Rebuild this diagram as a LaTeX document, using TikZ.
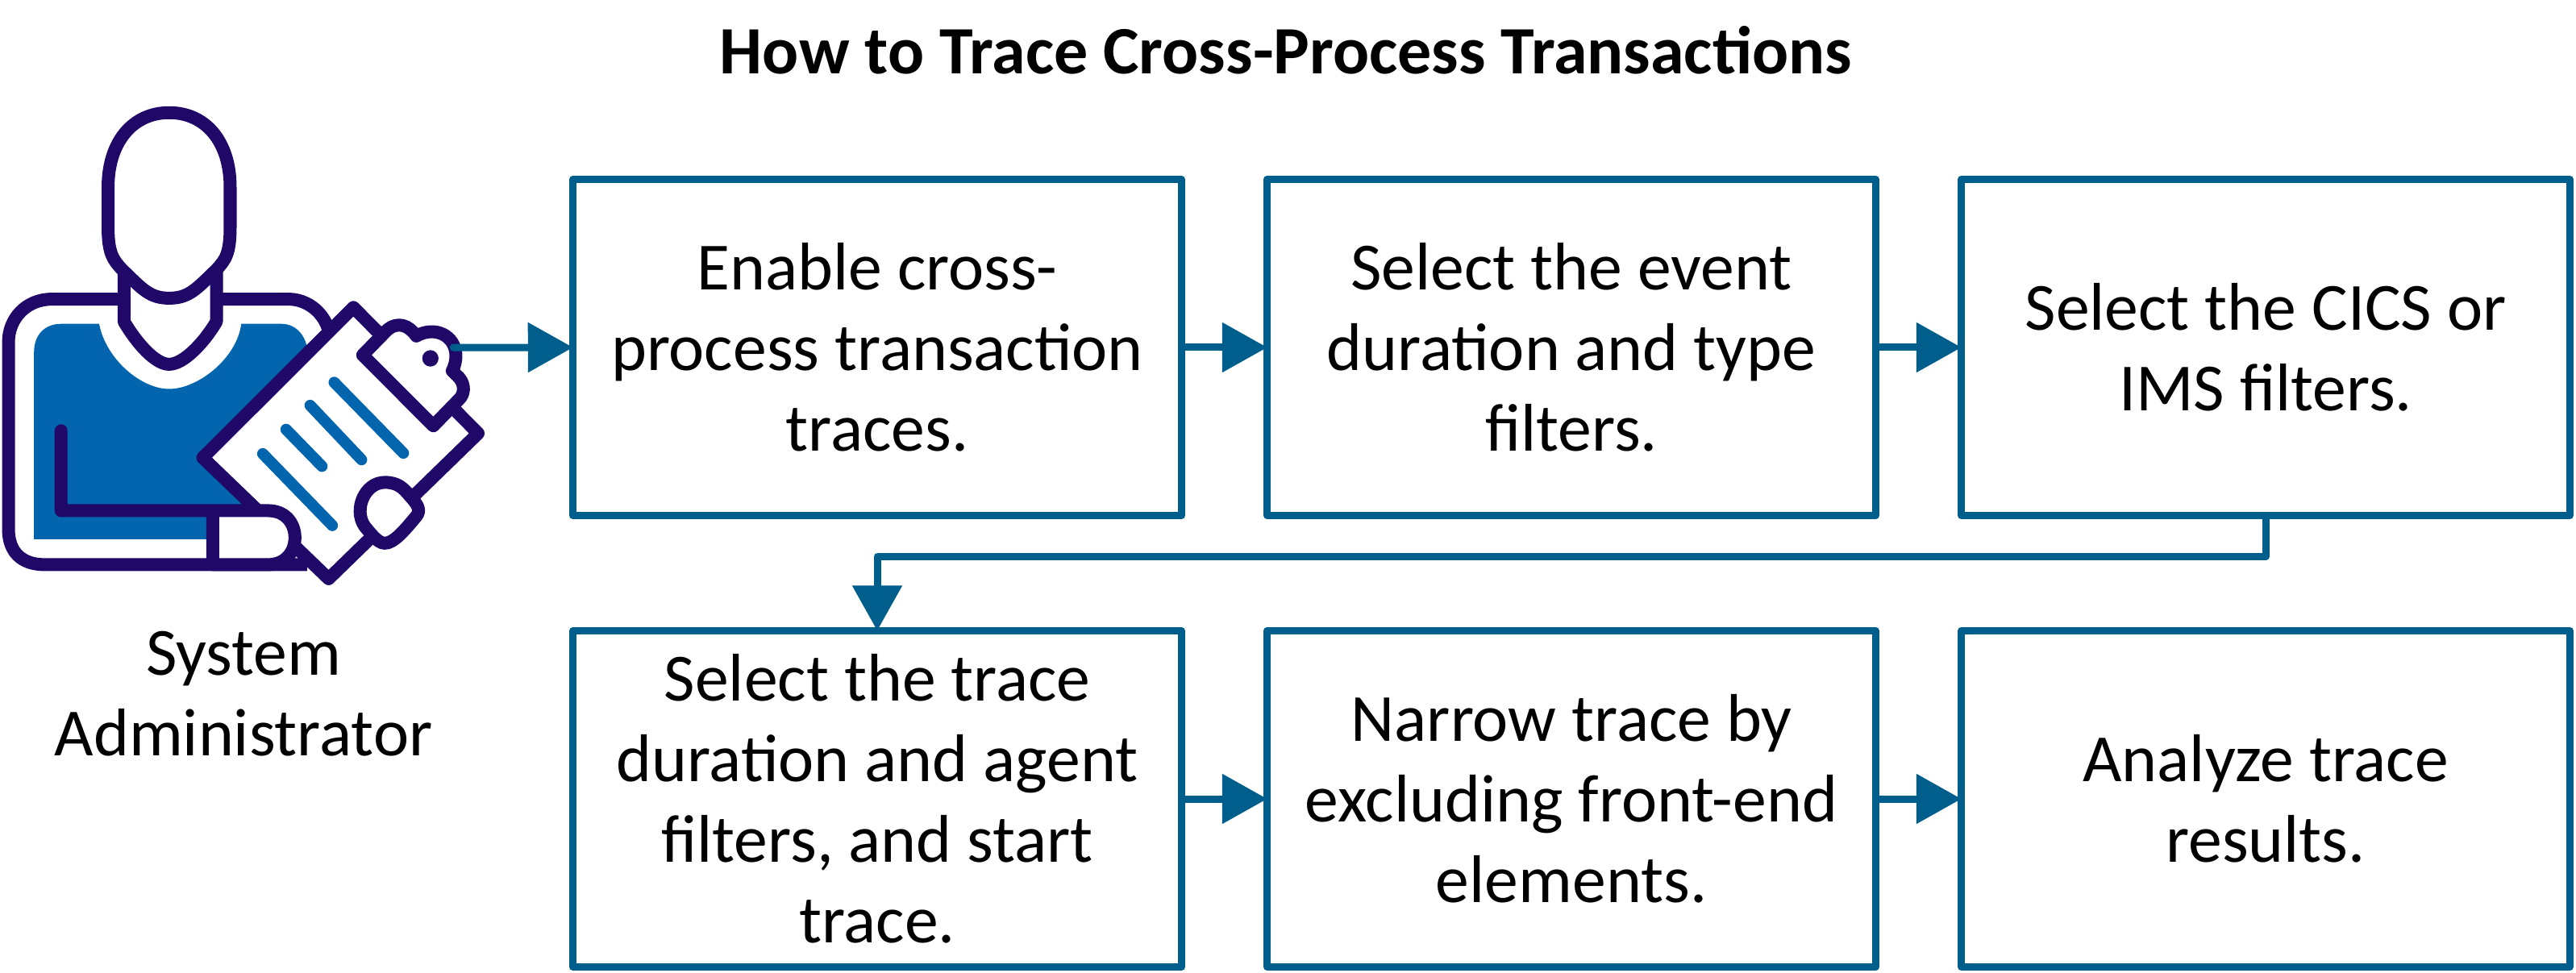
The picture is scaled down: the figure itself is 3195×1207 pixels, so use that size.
\documentclass[tikz,border=0pt]{standalone}
\usepackage{fontspec}
\setmainfont{Carlito}
\usetikzlibrary{arrows.meta}
\definecolor{flowblue}{RGB}{0,94,140}
\definecolor{iconink}{RGB}{32,8,104}
\definecolor{shirtblue}{RGB}{3,101,174}
\tikzset{
	stepbox/.style={draw=flowblue, line width=0.09cm, line join=round, fill=white, minimum width=7.54cm, minimum height=4.17cm, inner sep=0pt, outer sep=0pt, align=center, font=\fontsize{23.8}{28.45}\selectfont},
	flow/.style={draw=flowblue, line width=0.09cm, line join=round, -{Triangle[length=0.56cm, width=0.6cm]}},
	inkline/.style={draw=iconink, line width=0.16cm, line join=round},
	listline/.style={draw=shirtblue, line width=0.14cm, line cap=round}
}

\begin{document}
\begin{tikzpicture}[x=0.01cm, y=-0.01cm]
		\useasboundingbox (0,0) rectangle (3195,1207);

		\node (title) at (1595,62) {\fontsize{23.9}{29}\selectfont\bfseries How to Trace Cross-Process Transactions};

		\begin{scope}[shift={(0,110)}, xscale=0.459, yscale=0.408]
		\fill [shirtblue] (92,1370) -- (92,800) .. controls (92,750) and (120,715) .. (165,715) -- (268,715) .. controls (285,820) and (380,913) .. (457,913) .. controls (535,913) and (640,820) .. (652,715) -- (760,715) .. controls (800,715) and (825,750) .. (830,790) -- (830,1370) -- cycle;
		\draw [inkline] (330,640) -- (140,640) .. controls (70,640) and (23,700) .. (23,770) -- (23,1340) .. controls (23,1410) and (60,1447) .. (120,1447) -- (830,1447);
		\draw [inkline] (590,640) -- (780,640) .. controls (830,640) and (875,680) .. (888,735);
		\draw [inkline, fill=white] (335,540) -- (335,708) .. controls (370,775) and (420,838) .. (457,838) .. controls (495,838) and (550,775) .. (585,708) -- (585,540);
		\draw [inkline, fill=white] (292,300) .. controls (292,160) and (360,73) .. (457,73) .. controls (555,73) and (622,160) .. (622,300) -- (622,420) .. controls (622,500) and (610,520) .. (585,550) .. controls (530,610) and (510,637) .. (457,637) .. controls (405,637) and (385,610) .. (330,550) .. controls (305,520) and (292,500) .. (292,420) -- cycle;

		\draw [inkline, fill=white, miter limit=10] (955,665) -- (1292,1048) -- (888,1490) -- (548,1122) -- cycle;
		\draw [inkline, fill=white] (980,810) -- (1045,735) .. controls (1075,705) and (1105,720) .. (1125,752) .. controls (1175,720) and (1230,750) .. (1232,810) .. controls (1232,830) and (1228,845) .. (1222,858) -- (1240,878) .. controls (1258,900) and (1255,930) .. (1240,945) -- (1171,1025) -- cycle;
		\fill [iconink] (1163,820) ellipse [x radius=22, y radius=25];
		\draw [inkline, fill=white] (1040,1197) .. controls (1075,1197) and (1090,1215) .. (1105,1235) .. controls (1125,1260) and (1140,1280) .. (1125,1300) .. controls (1095,1340) and (1065,1382) .. (1040,1382) .. controls (1020,1382) and (1000,1350) .. (985,1330) .. controls (955,1280) and (985,1197) .. (1040,1197) -- cycle;
		\draw [listline] (903,893) -- (1090,1108);
		\draw [listline] (838,963) -- (977,1128);
		\draw [listline] (773,1036) -- (870,1148);
		\draw [listline] (710,1110) -- (898,1328);

		\fill [white] (575,1283) -- (725,1283) .. controls (770,1283) and (797,1320) .. (797,1365) .. controls (797,1410) and (770,1447) .. (725,1447) -- (575,1447) -- cycle;
		\draw [inkline, line cap=round] (165,1040) -- (165,1283) -- (725,1283) .. controls (770,1283) and (797,1320) .. (797,1365) .. controls (797,1410) and (770,1447) .. (725,1447) -- (575,1447) -- (575,1283);
		\coordinate (clipend) at (1225,787);
		\end{scope}

		\node (role) at (302,861) [align=center, font=\fontsize{23.8}{28.45}\selectfont] {System\\Administrator};

		\node (step1) at (1088,431) [stepbox] {Enable cross-\\process transaction\\traces.};
		\node (step2) at (1949,431) [stepbox] {Select the event\\duration and type\\filters.};
		\node (step3) at (2810,431) [stepbox] {Select the CICS or\\IMS filters.};
		\node (step4) at (1088,991) [stepbox] {Select the trace\\duration and agent\\filters, and start\\trace.};
		\node (step5) at (1949,991) [stepbox] {Narrow trace by\\excluding front-end\\elements.};
		\node (step6) at (2810,991) [stepbox] {Analyze trace\\results.};

		\draw [flow, line cap=round] (clipend) -- (step1.west);
		\draw [flow] (step1) -- (step2);
		\draw [flow] (step2) -- (step3);
		\draw [flow] (step3.south) -- ++(0,51) -| (step4.north);
		\draw [flow] (step4) -- (step5);
		\draw [flow] (step5) -- (step6);

		\end{tikzpicture}
\end{document}
